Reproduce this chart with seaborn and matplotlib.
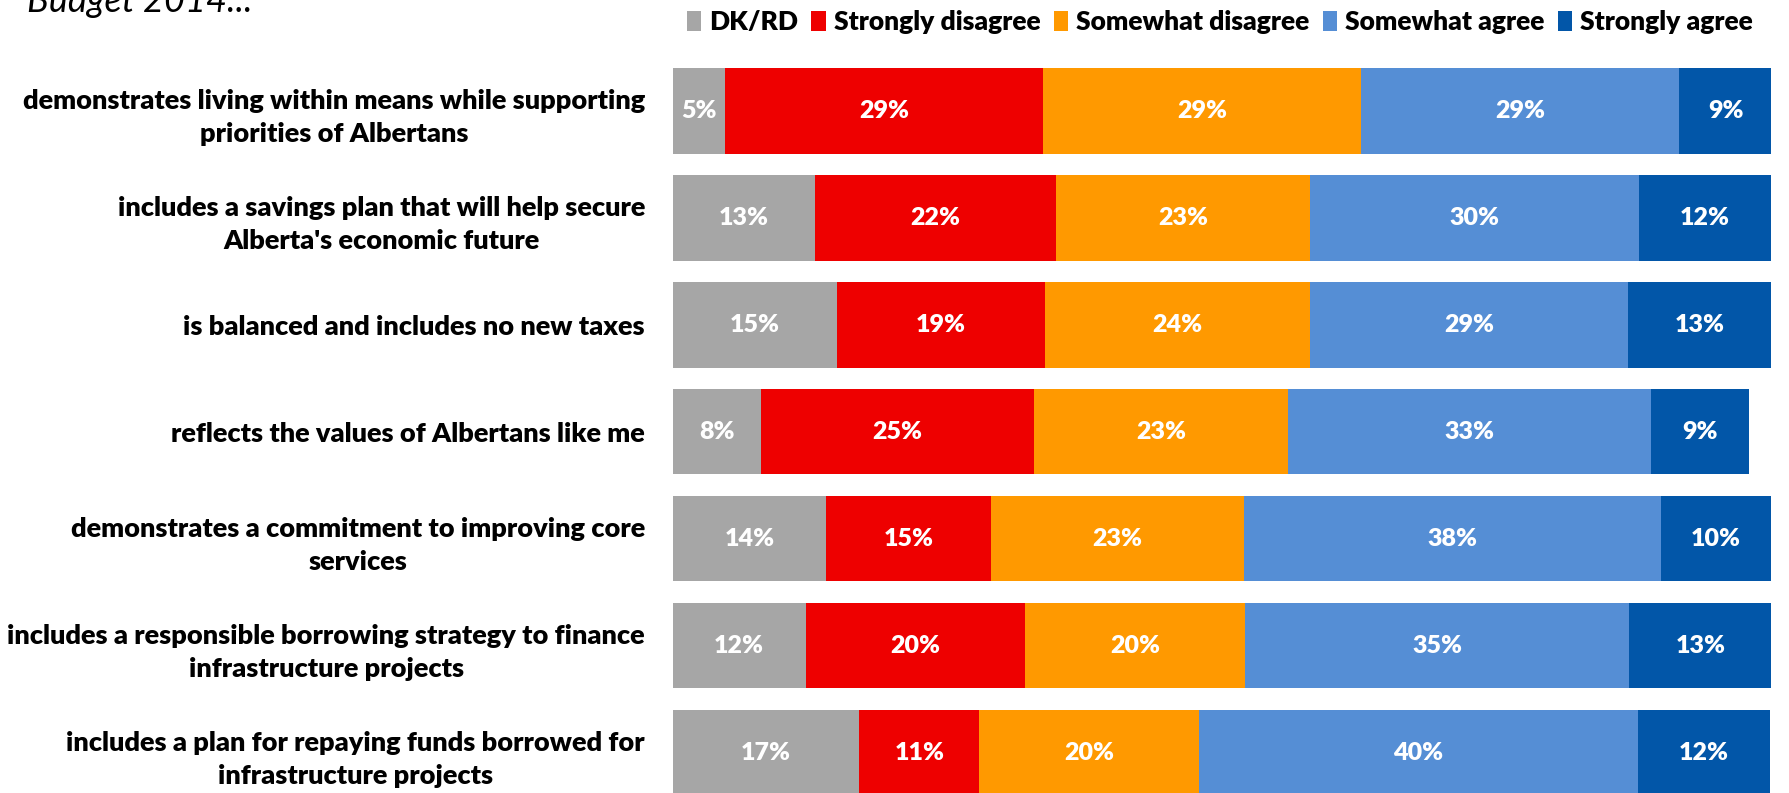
import matplotlib
matplotlib.use("Agg")
import matplotlib.pyplot as plt
from matplotlib.patches import Patch
import numpy as np
import pandas as pd
import seaborn as sns

# statements (rows, top to bottom)
statements = [
	"demonstrates living within means while supporting\npriorities of Albertans",
	"includes a savings plan that will help secure\nAlberta's economic future",
	"is balanced and includes no new taxes",
	"reflects the values of Albertans like me",
	"demonstrates a commitment to improving core\nservices",
	"includes a responsible borrowing strategy to finance\ninfrastructure projects",
	"includes a plan for repaying funds borrowed for\ninfrastructure projects",
]

responses = ["DK/RD", "Strongly disagree", "Somewhat disagree", "Somewhat agree", "Strongly agree"]
colors = ["#A6A6A6", "#EE0000", "#FF9900", "#558ED5", "#0256A8"]

# percentages per response, one value per statement
dk_rd = [4.8, 13.0, 15.0, 8.0, 14.0, 12.1, 17.0]
strongly_disagree = [28.9, 21.9, 18.9, 24.9, 15.0, 20.0, 10.9]
somewhat_disagree = [29.0, 23.1, 24.1, 23.1, 23.0, 20.0, 20.0]
somewhat_agree = [28.9, 30.0, 29.0, 33.1, 38.0, 35.0, 40.0]
strongly_agree = [8.6, 12.0, 13.0, 8.9, 10.0, 13.0, 12.0]

df = pd.DataFrame({
	"statement": statements,
	"DK/RD": dk_rd,
	"Strongly disagree": strongly_disagree,
	"Somewhat disagree": somewhat_disagree,
	"Somewhat agree": somewhat_agree,
	"Strongly agree": strongly_agree,
})
cum = df[responses].cumsum(axis=1)

plt.rcParams["font.family"] = ["Lato", "DejaVu Sans"]
plt.rcParams["font.weight"] = "heavy"

fig = plt.figure(figsize=(17.89, 7.93), dpi=100)
ax = fig.add_axes([0.376, 0.0, 0.614, 1.0])

# stacked bars: draw cumulative totals from the last response backwards
for resp, col in reversed(list(zip(responses, colors))):
	sns.barplot(x=cum[resp], y=df["statement"], orient="h", color=col,
	            width=0.8, saturation=1, linewidth=0, ax=ax)

# value labels
for i in range(len(statements)):
	left = 0
	for resp in responses:
		val = df[resp].iloc[i]
		ax.text(left + val / 2, i, f"{val:.0f}%", ha="center", va="center",
		        color="white", fontsize=18, fontweight="heavy")
		left += val

ax.set_xlim(0, 100)
ax.set_ylim(6.377, -1.035)
ax.set_xlabel("")
ax.set_ylabel("")
ax.set_xticks([])
ax.tick_params(axis="y", length=0, pad=20, labelsize=19.5)
for lbl in ax.get_yticklabels():
	lbl.set_fontweight("heavy")
	lbl.set_multialignment("center")
	lbl.set_linespacing(1.45)
for s in ax.spines.values():
	s.set_visible(False)

handles = [Patch(facecolor=c, edgecolor="none", label=r) for r, c in zip(responses, colors)]
fig.legend(handles=handles, loc="upper right", bbox_to_anchor=(0.993, 1.017), ncol=5,
           frameon=False, fontsize=19, handlelength=0.55, handleheight=0.8,
           handletextpad=0.3, columnspacing=0.5)

fig.text(0.015, 0.985, "Budget 2014...", fontsize=26, style="italic",
         fontweight="normal", ha="left", va="baseline")

fig.savefig("out.png", dpi=100)
